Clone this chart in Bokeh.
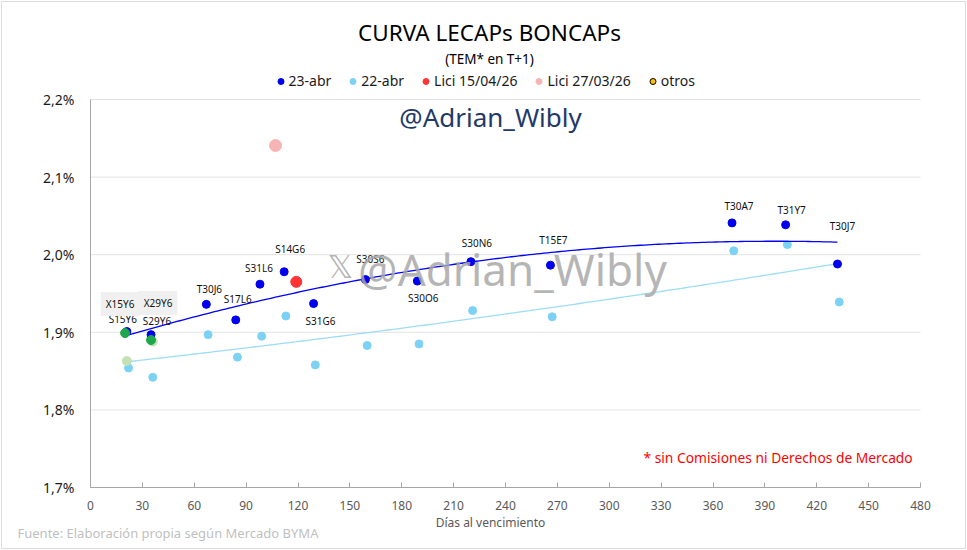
import numpy as np
from bokeh.plotting import figure
from bokeh.models import (ColumnDataSource, LabelSet, Label, Legend, LegendItem,
                          FixedTicker, CustomJSTickFormatter, BoxAnnotation)
from bokeh.core.properties import value
from bokeh.embed import file_html
from bokeh.resources import INLINE

# ---------------- data ----------------
tickers = ["S15Y6", "S29Y6", "T30J6", "S17L6", "S31L6", "S14G6", "S31G6",
           "S30S6", "S30O6", "S30N6", "T15E7", "T30A7", "T31Y7", "T30J7"]
days_23 = [21, 35, 67, 84, 98, 112, 129, 159, 189, 220, 266, 371, 402, 432]
tem_23 = [1.901, 1.897, 1.936, 1.916, 1.962, 1.978, 1.937, 1.968, 1.966,
          1.991, 1.9865, 2.041, 2.0385, 1.988]
days_22 = [22, 36, 68, 85, 99, 113, 130, 160, 190, 221, 267, 372, 403, 433]
tem_22 = [1.854, 1.842, 1.897, 1.868, 1.895, 1.921, 1.858, 1.883, 1.885,
          1.928, 1.920, 2.005, 2.013, 1.939]

x_tickers = ["X15Y6", "X29Y6"]
x_days_23 = [20, 35]
x_tem_23 = [1.899, 1.890]
x_days_22 = [21, 36]
x_tem_22 = [1.863, 1.888]

lici_15_days = [119]
lici_15_tem = [1.965]
lici_27_days = [107]
lici_27_tem = [2.1407]

otros_days = [np.nan]
otros_tem = [np.nan]

x_ticks = [0, 30, 60, 90, 120, 150, 180, 210, 240, 270, 300, 330, 360, 390, 420, 450, 480]
y_ticks = [1.7, 1.8, 1.9, 2.0, 2.1, 2.2]

# label offsets (px, right / down)
lbl_dx = [-4, 6, 3, 2, -1, 6, 7, 5, 6, 6, 3, 7, 6, 5]
lbl_dy = [-13, -14, -15, -21, -16, -23, 17, -21, 17, -19, -25, -17, -15, -38]
x_lbl_dx = [-5, 7]
x_lbl_dy = [-29, -37]

FONT = "Noto Sans"
W, H = 967, 550
# plot-area placement inside the canvas (pixels)
FL, FR, FT, FB = 90, 920, 99, 487
X0, X1, Y0, Y1 = 0, 480, 1.7, 2.2


def px2x(px):
    return X0 + (px - FL) * (X1 - X0) / (FR - FL)


def px2y(py):
    return Y1 - (py - FT) * (Y1 - Y0) / (FB - FT)


p = figure(width=W, height=H,
           x_range=(px2x(0), px2x(W)), y_range=(px2y(H), px2y(0)),
           output_backend="svg", toolbar_location=None,
           min_border=0, min_border_left=0, min_border_right=0,
           min_border_top=0, min_border_bottom=0)
p.outline_line_color = None
p.background_fill_color = "white"
p.border_fill_color = "white"
p.xgrid.visible = False
p.ygrid.visible = False

# axes drawn at fixed locations inside the canvas
p.xaxis.fixed_location = Y0
p.yaxis.fixed_location = X0
p.xaxis.bounds = (X0, X1)
p.yaxis.bounds = (Y0, Y1)
p.xaxis.ticker = FixedTicker(ticks=x_ticks)
p.yaxis.ticker = FixedTicker(ticks=y_ticks)
p.yaxis.formatter = CustomJSTickFormatter(code="return tick.toFixed(1).replace('.', ',') + '%';")

p.xaxis.axis_line_color = "#A6A6A6"
p.xaxis.major_tick_line_color = "#A6A6A6"
p.xaxis.major_tick_in = 5
p.xaxis.major_tick_out = 0
p.xaxis.minor_tick_line_color = None
p.xaxis.major_label_standoff = 13
p.xaxis.major_label_text_font = FONT
p.xaxis.major_label_text_font_size = "12px"
p.xaxis.major_label_text_color = "#595959"

p.yaxis.axis_line_color = "#A6A6A6"
p.yaxis.major_tick_line_color = None
p.yaxis.major_tick_in = 0
p.yaxis.major_tick_out = 0
p.yaxis.minor_tick_line_color = None
p.yaxis.major_label_standoff = 16
p.yaxis.major_label_text_font = FONT
p.yaxis.major_label_text_font_size = "14px"
p.yaxis.major_label_text_color = "#1a1a1a"

# horizontal gridlines at the y ticks, across the plot area
p.segment(x0=[X0] * len(y_ticks), x1=[X1] * len(y_ticks), y0=y_ticks, y1=y_ticks,
          line_color="#E3E3E3", line_width=1, level="underlay")

# trendlines (quadratic fits, as in the spreadsheet)
fx23 = np.array(days_23 + x_days_23, dtype=float)
fy23 = np.array(tem_23 + x_tem_23, dtype=float)
c23 = np.polyfit(fx23, fy23, 2)
tx23 = np.linspace(fx23.min(), fx23.max(), 200)
fx22 = np.array(days_22 + x_days_22, dtype=float)
fy22 = np.array(tem_22 + x_tem_22, dtype=float)
c22 = np.polyfit(fx22, fy22, 2)
tx22 = np.linspace(fx22.min(), fx22.max(), 200)

r22 = p.scatter(days_22, tem_22, size=8, color="#7CD2F5")
p.line(tx22, np.polyval(c22, tx22), line_color="#9EDDF3", line_width=1.3)
p.line(tx23, np.polyval(c23, tx23), line_color="#0000FF", line_width=1.3)
r23 = p.scatter(days_23, tem_23, size=8, color="#0000EE")
p.scatter(x_days_22, x_tem_22, size=9, color="#C5E0B4")
p.scatter(x_days_23, x_tem_23, size=9, color="#1EA84C")
rl15 = p.scatter(lici_15_days, lici_15_tem, size=11, color="#FF3535")
rl27 = p.scatter(lici_27_days, lici_27_tem, size=12, color="#F7B4B4")
rot = p.scatter(otros_days, otros_tem, size=8, fill_color="#FFC000", line_color="black")

# ticker labels
src = ColumnDataSource(dict(x=days_23, y=tem_23, t=tickers,
                            dx=lbl_dx, dy=[-d for d in lbl_dy]))
p.add_layout(LabelSet(x="x", y="y", text="t", source=src, x_offset="dx", y_offset="dy",
                      text_align="center", text_baseline="middle",
                      text_font=value(FONT), text_font_size="10px", text_color="#111111"))
for i, t in enumerate(x_tickers):
    p.add_layout(Label(x=x_days_23[i], y=x_tem_23[i], text=t,
                       x_offset=x_lbl_dx[i], y_offset=-x_lbl_dy[i],
                       text_align="center", text_baseline="middle",
                       text_font=FONT, text_font_size="10px", text_color="#111111",
                       background_fill_color="#F0F0F0", padding=5))


def txt(px, py, s, size, color="#000000", align="center", font=FONT, alpha=1.0):
    p.add_layout(Label(x=px2x(px), y=px2y(py), text=s, text_align=align,
                       text_baseline="middle", text_font=font, text_font_size=size,
                       text_color=color, text_alpha=alpha))


txt(489, 32, "CURVA LECAPs BONCAPs", "22.5px")
txt(489, 58, "(TEM* en T+1)", "13.5px")
txt(490, 116, "@Adrian_Wibly", "26px", color="#1F3A68")
txt(512, 268, "@Adrian_Wibly", "44px", color="#A8A8A8", alpha=0.85)
txt(340, 266, "𝕏", "32px", color="#A8A8A8", font="DejaVu Sans", alpha=0.85)
txt(643, 457, "* sin Comisiones ni Derechos de Mercado", "13.8px", color="#FF0000", align="left")
txt(490, 522, "Días al vencimiento", "12px", color="#595959")
txt(17, 532, "Fuente: Elaboración propia según Mercado BYMA", "13px", color="#BFBFBF", align="left")

# legend
legend = Legend(items=[LegendItem(label="23-abr", renderers=[r23]),
                       LegendItem(label="22-abr", renderers=[r22]),
                       LegendItem(label="Lici 15/04/26", renderers=[rl15]),
                       LegendItem(label="Lici 27/03/26", renderers=[rl27]),
                       LegendItem(label="otros", renderers=[rot])],
                orientation="horizontal", location=(272.5, H - 90),
                glyph_width=15, glyph_height=18, label_height=18, label_standoff=1,
                spacing=14, padding=0, margin=0, border_line_color=None,
                background_fill_alpha=0, label_text_font=FONT,
                label_text_font_size="14px", label_text_color="#1a1a1a")
p.add_layout(legend)

# outer chart border
p.add_layout(BoxAnnotation(left=px2x(1), right=px2x(965), top=px2y(1), bottom=px2y(548),
                           fill_alpha=0, line_color="#8C8C8C", line_width=1))

open("out.html", "w").write(file_html(p, INLINE))
